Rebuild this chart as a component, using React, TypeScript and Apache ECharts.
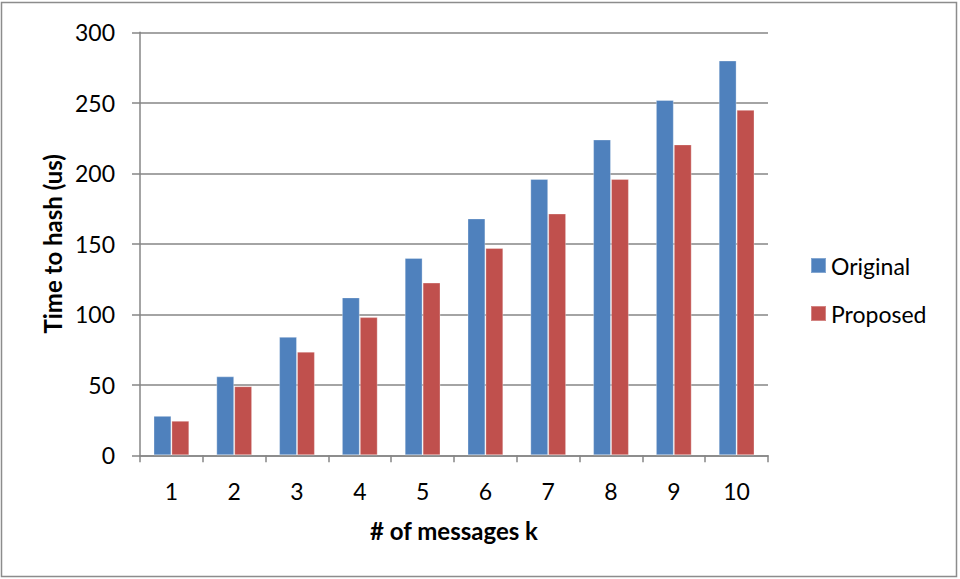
import React, { useEffect, useRef } from "react";
import * as echarts from "echarts";

const categories = ["1", "2", "3", "4", "5", "6", "7", "8", "9", "10"];
const original = [28, 56, 84, 112, 140, 168, 196, 224, 252, 280];
const proposed = [24.5, 49, 73.5, 98, 122.5, 147, 171.5, 196, 220.5, 245];
const yTicks = { min: 0, max: 300, interval: 50 };

const FONT = "Lato, 'Open Sans', sans-serif";
const GRID_GRAY = "#868686";
const LABEL_SIZE = 23;
const TITLE_SIZE = 24;

export default function App() {
  const ref = useRef<HTMLDivElement>(null);

  useEffect(() => {
    if (!ref.current) return;
    const chart = echarts.init(ref.current, null, { renderer: "svg" });
    chart.setOption({
      animation: false,
      backgroundColor: "#ffffff",
      textStyle: { fontFamily: FONT },
      grid: { left: 140, right: 192, top: 32.3, bottom: 123.7, containLabel: false },
      legend: {
        orient: "vertical",
        left: 810,
        top: 254,
        padding: 0,
        itemWidth: 15,
        itemHeight: 15,
        itemGap: 25,
        icon: "rect",
        textStyle: { fontFamily: FONT, fontSize: LABEL_SIZE, color: "#000" },
        data: ["Original", "Proposed"],
      },
      graphic: [
        {
          type: "rect",
          shape: { x: 1.5, y: 2.5, width: 955, height: 574 },
          style: { fill: "none", stroke: "#8c8c8c", lineWidth: 1.5 },
          silent: true,
        },
      ],
      xAxis: {
        type: "category",
        data: categories,
        name: "# of messages k",
        nameLocation: "middle",
        nameGap: 63,
        nameTextStyle: { fontFamily: FONT, fontSize: TITLE_SIZE, fontWeight: "bold", color: "#000" },
        axisLine: { show: true, lineStyle: { color: GRID_GRAY, width: 1.5 } },
        axisTick: { show: true, length: 7, alignWithLabel: false, lineStyle: { color: GRID_GRAY, width: 1.5 } },
        axisLabel: { fontFamily: FONT, fontSize: LABEL_SIZE, color: "#000", margin: 24 },
      },
      yAxis: {
        type: "value",
        min: yTicks.min,
        max: yTicks.max,
        interval: yTicks.interval,
        name: "Time to hash (us)",
        nameLocation: "middle",
        nameGap: 75,
        nameTextStyle: { fontFamily: FONT, fontSize: TITLE_SIZE, fontWeight: "bold", color: "#000" },
        axisLine: { show: true, lineStyle: { color: GRID_GRAY, width: 1.5 } },
        axisTick: { show: true, length: 8, lineStyle: { color: GRID_GRAY, width: 1.5 } },
        axisLabel: { fontFamily: FONT, fontSize: LABEL_SIZE, color: "#000", margin: 25 },
        splitLine: { show: true, lineStyle: { color: GRID_GRAY, width: 1.5 } },
      },
      series: [
        {
          name: "Original",
          type: "bar",
          data: original,
          barGap: "0%",
          barCategoryGap: "43%",
          itemStyle: { color: "#4F81BD", borderColor: "rgba(255,255,255,0.3)", borderWidth: 1 },
        },
        {
          name: "Proposed",
          type: "bar",
          data: proposed,
          barGap: "0%",
          barCategoryGap: "43%",
          itemStyle: { color: "#C0504D", borderColor: "rgba(255,255,255,0.3)", borderWidth: 1 },
        },
      ],
    });
    return () => chart.dispose();
  }, []);

  return (
    <div
      ref={ref}
      style={{ position: "absolute", left: 0, top: 0, width: 960, height: 579 }}
    />
  );
}
